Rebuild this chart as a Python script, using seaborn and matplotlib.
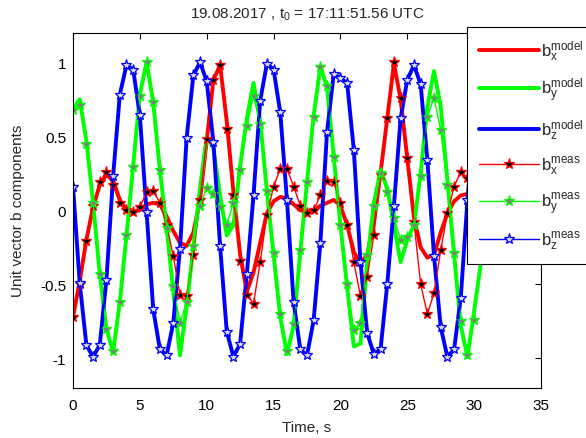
import numpy as np
import pandas as pd
import matplotlib
matplotlib.use("Agg")
import matplotlib.pyplot as plt
import seaborn as sns

time_s = [0, 0.5, 1, 1.5, 2, 2.5, 3, 3.5, 4, 4.5, 5, 5.5, 6, 6.5, 7, 7.5, 8, 8.5, 9, 9.5,
          10, 10.5, 11, 11.5, 12, 12.5, 13, 13.5, 14, 14.5, 15, 15.5, 16, 16.5, 17, 17.5,
          18, 18.5, 19, 19.5, 20, 20.5, 21, 21.5, 22, 22.5, 23, 23.5, 24, 24.5, 25, 25.5,
          26, 26.5, 27, 27.5, 28, 28.5, 29, 29.5, 30, 30.5, 31]

bx_model = [-0.72, -0.48, -0.20, 0.02, 0.17, 0.24, 0.20, 0.07, 0.00, -0.01, 0.00, 0.04, 0.05, 0.04,
            -0.04, -0.14, -0.22, -0.24, -0.15, 0.07, 0.47, 0.88, 0.98, 0.60, 0.12, -0.30, -0.55, -0.42,
            -0.22, -0.02, 0.06, 0.09, 0.08, 0.04, 0.00, -0.01, 0.00, 0.03, 0.05, 0.07, 0.03, -0.10,
            -0.28, -0.36, -0.30, -0.08, 0.25, 0.62, 0.99, 0.75, 0.35, -0.05, -0.25, -0.32, -0.30, -0.15,
            -0.02, 0.06, 0.10, 0.11, 0.08, 0.02, -0.05]
by_model = [0.68, 0.75, 0.47, 0.05, -0.43, -0.80, -0.96, -0.62, -0.17, 0.30, 0.78, 1.00, 0.73, 0.27,
            -0.12, -0.55, -0.98, -0.65, -0.25, 0.15, 0.50, 0.42, 0.10, -0.17, -0.10, 0.30, 0.62, 0.86,
            0.60, 0.13, -0.30, -0.72, -0.97, -0.78, -0.28, 0.19, 0.64, 0.97, 0.83, 0.36, -0.10, -0.52,
            -0.92, -0.90, -0.35, 0.05, 0.27, 0.15, -0.10, -0.35, -0.20, -0.10, 0.25, 0.70, 0.94, 0.70,
            0.20, -0.30, -0.78, -0.99, -0.68, -0.36, -0.12]
bz_model = [0.16, -0.49, -0.91, -0.99, -0.91, -0.47, 0.23, 0.78, 0.98, 0.95, 0.64, -0.01, -0.67, -0.94,
            -0.98, -0.76, -0.26, 0.49, 0.91, 1.00, 0.87, 0.46, -0.24, -0.82, -0.99, -0.90, -0.43, 0.10,
            0.74, 0.99, 0.95, 0.66, 0.07, -0.62, -0.94, -0.98, -0.74, -0.22, 0.53, 0.92, 0.89, 0.86,
            0.41, -0.35, -0.83, -0.97, -0.94, -0.50, 0.03, 0.62, 0.88, 0.98, 0.85, 0.34, -0.31, -0.79,
            -0.99, -0.94, -0.59, 0.07, 0.60, 0.95, 0.90]

bx_meas = [-0.72, -0.50, -0.21, 0.03, 0.19, 0.26, 0.17, 0.05, 0.00, -0.01, 0.02, 0.12, 0.13, 0.05,
           -0.10, -0.31, -0.57, -0.58, -0.30, 0.07, 0.48, 0.88, 0.98, 0.55, 0.10, -0.34, -0.57, -0.63,
           -0.35, -0.03, 0.16, 0.28, 0.28, 0.16, 0.03, -0.02, 0.00, 0.10, 0.20, 0.19, 0.05, -0.10,
           -0.35, -0.58, -0.45, -0.17, 0.24, 0.62, 1.00, 0.76, 0.35, -0.08, -0.50, -0.70, -0.56, -0.27,
           -0.02, 0.16, 0.26, 0.22, 0.15, 0.05, -0.05]
by_meas = [0.68, 0.71, 0.45, 0.05, -0.43, -0.80, -0.95, -0.62, -0.17, 0.29, 0.77, 1.00, 0.73, 0.27,
           -0.12, -0.51, -0.76, -0.62, -0.24, 0.03, 0.15, 0.11, 0.02, -0.10, 0.05, 0.27, 0.57, 0.77,
           0.58, 0.13, -0.29, -0.70, -0.95, -0.77, -0.27, 0.19, 0.63, 0.97, 0.84, 0.36, -0.10, -0.50,
           -0.81, -0.76, -0.30, 0.03, 0.25, 0.12, -0.05, -0.20, -0.18, -0.10, 0.23, 0.63, 0.76, 0.54,
           0.17, -0.29, -0.75, -0.98, -0.74, -0.30, -0.05]
bz_meas = [0.16, -0.49, -0.91, -0.99, -0.91, -0.47, 0.23, 0.78, 0.98, 0.95, 0.64, -0.01, -0.67, -0.94,
           -0.98, -0.76, -0.26, 0.49, 0.91, 1.00, 0.87, 0.46, -0.24, -0.82, -0.99, -0.90, -0.43, 0.10,
           0.74, 0.99, 0.95, 0.66, 0.07, -0.62, -0.94, -0.98, -0.74, -0.22, 0.53, 0.92, 0.89, 0.86,
           0.41, -0.35, -0.83, -0.97, -0.94, -0.50, 0.03, 0.62, 0.88, 0.98, 0.85, 0.34, -0.31, -0.79,
           -0.99, -0.94, -0.59, 0.07, 0.60, 0.95, 0.90]

x_ticks = [0, 5, 10, 15, 20, 25, 30, 35]
y_ticks = [-1, -0.5, 0, 0.5, 1]
y_tick_labels = ["-1", "-0.5", "0", "0.5", "1"]

sns.set_style("white")
plt.rcParams['font.family'] = ['Liberation Sans', 'DejaVu Sans']
plt.rcParams['mathtext.fontset'] = 'custom'
plt.rcParams['mathtext.rm'] = 'Liberation Sans'
plt.rcParams['mathtext.it'] = 'Liberation Sans'

W, H = 586, 439
fig = plt.figure(figsize=(W / 100, H / 100), dpi=100)
ax = fig.add_axes([73 / W, 1 - 389 / H, (541 - 73) / W, (389 - 33.5) / H])

df = pd.DataFrame({"t": time_s, "bx_model": bx_model, "by_model": by_model, "bz_model": bz_model,
                   "bx_meas": bx_meas, "by_meas": by_meas, "bz_meas": bz_meas})

model_specs = [("bx_model", (1, 0, 0), r"b$_{\mathrm{x}}^{\mathrm{model}}$"),
               ("by_model", (0, 1, 0), r"b$_{\mathrm{y}}^{\mathrm{model}}$"),
               ("bz_model", (0, 0, 1), r"b$_{\mathrm{z}}^{\mathrm{model}}$")]
meas_specs = [("bx_meas", (1, 0, 0), (0, 0, 0), r"b$_{\mathrm{x}}^{\mathrm{meas}}$"),
              ("by_meas", (0, 1, 0), (0.5, 0.5, 0.5), r"b$_{\mathrm{y}}^{\mathrm{meas}}$"),
              ("bz_meas", (0, 0, 1), (0.85, 0.85, 0.85), r"b$_{\mathrm{z}}^{\mathrm{meas}}$")]

for col, c, lab in model_specs:
    sns.lineplot(data=df, x="t", y=col, ax=ax, color=c, lw=2.8, label=lab,
                 estimator=None, sort=False)
for col, c, fc, lab in meas_specs:
    sns.lineplot(data=df, x="t", y=col, ax=ax, color=c, lw=1.0, label=lab,
                 marker="*", markersize=8, markeredgecolor=c, markerfacecolor=fc,
                 markeredgewidth=0.9, estimator=None, sort=False)

ax.set_xlim(0, 35)
ax.set_ylim(-1.2, 1.2)
ax.set_xticks(x_ticks)
ax.set_xticklabels([str(v) for v in x_ticks])
ax.set_yticks(y_ticks)
ax.set_yticklabels(y_tick_labels)
ax.tick_params(direction="in", length=4, width=0.8, top=True, right=True,
               labelsize=11, colors="black")
ax.tick_params(axis="x", pad=7)
ax.tick_params(axis="y", pad=5)
for s in ax.spines.values():
    s.set_color("black")
    s.set_linewidth(0.8)
ax.set_xlabel("Time, s", fontsize=11, labelpad=6)
ax.set_ylabel("Unit vector b components", fontsize=11, labelpad=11)
ax.set_title(r"19.08.2017 , t$_{\mathrm{0}}$ = 17:11:51.56 UTC", fontsize=11, pad=11)

leg = ax.legend(loc="upper left", bbox_to_anchor=(467 / W, 1 - 28 / H),
                bbox_transform=fig.transFigure, borderaxespad=0, fontsize=12,
                frameon=True, fancybox=False, framealpha=1, edgecolor="black",
                handlelength=3.6, handletextpad=0.15, labelspacing=0.78, borderpad=0.7)
leg.get_frame().set_linewidth(0.8)
leg.set_zorder(10)

fig.savefig("out.png", dpi=100)
